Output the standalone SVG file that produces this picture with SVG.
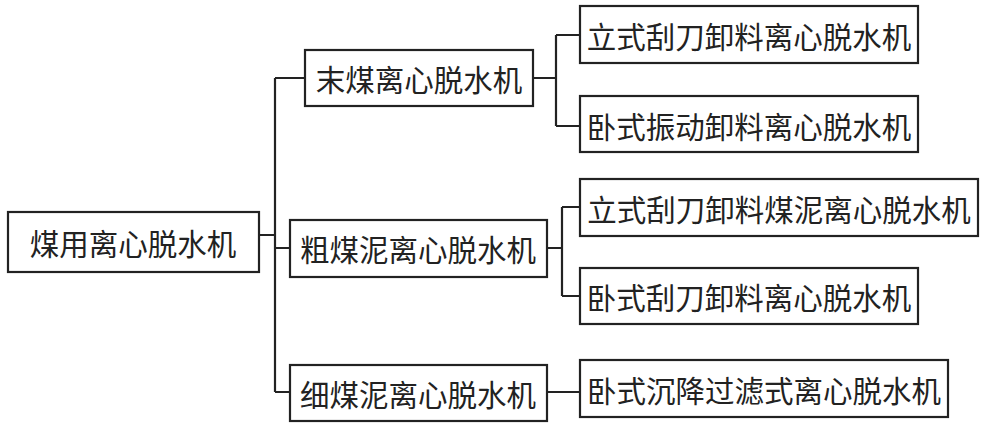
<svg xmlns="http://www.w3.org/2000/svg" width="996" height="428" viewBox="0 0 996 428">
<style>
rect{fill:#fff;stroke:#222;stroke-width:2.2}
text{font-family:"Noto Sans CJK SC",sans-serif;font-size:29.5px;fill:#222;dominant-baseline:central}
.c path{fill:none;stroke:#222;stroke-width:2.2}
</style>
<rect x="0" y="0" width="996" height="428" style="stroke:none"/>
<g class="c">
<path d="M259 235H275M275 78V392M275 78H305M275 248H290M275 392H290"/>
<path d="M533 78H556M556 35V126M556 35H580M556 126H580"/>
<path d="M547 248H562M562 207V296M562 207H580M562 296H580"/>
<path d="M547 392H580"/>
</g>
<g id="root"><rect x="8" y="212" width="251" height="60"/><text x="133" y="242" text-anchor="middle">煤用离心脱水机</text></g>
<g id="n1"><rect x="305" y="50" width="228" height="56"/><text x="419" y="78" text-anchor="middle">末煤离心脱水机</text></g>
<g id="n2"><rect x="290" y="220" width="257" height="57"/><text x="418" y="248" text-anchor="middle">粗煤泥离心脱水机</text></g>
<g id="n3"><rect x="290" y="365" width="257" height="56"/><text x="418" y="393" text-anchor="middle">细煤泥离心脱水机</text></g>
<g id="l1"><rect x="580" y="6" width="338" height="57"/><text x="749" y="35" text-anchor="middle">立式刮刀卸料离心脱水机</text></g>
<g id="l2"><rect x="580" y="96" width="338" height="56"/><text x="749" y="125" text-anchor="middle">卧式振动卸料离心脱水机</text></g>
<g id="l3"><rect x="580" y="179" width="398" height="57"/><text x="779" y="208" text-anchor="middle">立式刮刀卸料煤泥离心脱水机</text></g>
<g id="l4"><rect x="580" y="268" width="338" height="56"/><text x="749" y="296" text-anchor="middle">卧式刮刀卸料离心脱水机</text></g>
<g id="l5"><rect x="580" y="360" width="368" height="57"/><text x="764" y="389" text-anchor="middle">卧式沉降过滤式离心脱水机</text></g>
</svg>
